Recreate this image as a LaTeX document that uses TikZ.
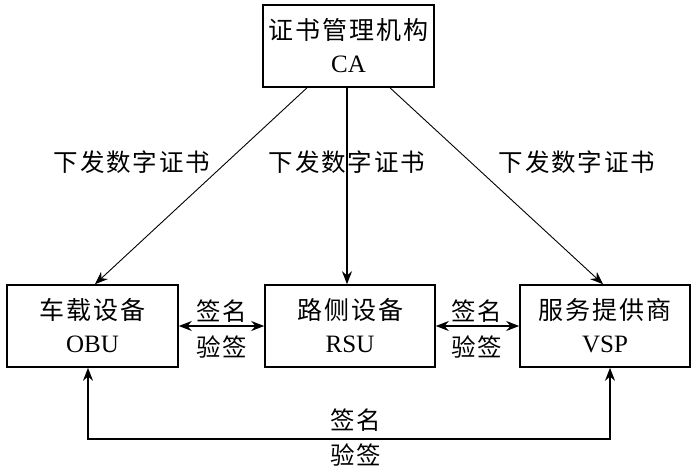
\documentclass[tikz,border=0pt]{standalone}
\usepackage{fontspec}
\setmainfont{Liberation Serif}
\newfontfamily\cjk[LetterSpace=8]{Noto Sans CJK SC}
\usetikzlibrary{arrows.meta}
\begin{document}
\begin{tikzpicture}[x=1pt,y=-1pt,
  box/.style={draw, line width=1.6pt, minimum width=171pt, minimum height=82pt,
    inner sep=0pt, align=center, font=\fontsize{25}{33}\selectfont},
  lbl/.style={font=\cjk\fontsize{24.5}{28}\selectfont, inner sep=0pt},
  arr/.style={line width=1.3pt, -{Stealth[length=13pt,width=10pt]}},
  darr/.style={line width=1.6pt, {Stealth[length=13pt,width=10pt]}-{Stealth[length=13pt,width=10pt]}},
  thin/.style={line width=0.9pt, -{Stealth[length=13pt,width=10pt]}}]
\useasboundingbox (0,0) rectangle (697,475);
\node[box] (ca) at (348.5,46) {{\cjk 证书管理机构}\\CA};
\node[box] (obu) at (92.5,326) {{\cjk 车载设备}\\OBU};
\node[box, minimum width=170pt] (rsu) at (350,326) {{\cjk 路侧设备}\\RSU};
\node[box, minimum width=170pt] (vsp) at (605,326) {{\cjk 服务提供商}\\VSP};

\draw[thin] ([xshift=-41.5pt]ca.south) -- ([xshift=2.5pt]obu.north);
\draw[arr] ([xshift=-1.5pt]ca.south) -- ([xshift=-3pt]rsu.north);
\draw[thin] ([xshift=41.5pt]ca.south) -- ([xshift=-2pt]vsp.north);

\node[lbl] (l1) at (132,162) {下发数字证书};
\node[lbl] (l2) at (347,162) {下发数字证书};
\node[lbl] (l3) at (577,162) {下发数字证书};

\draw[darr] (obu.east) -- (rsu.west);
\draw[darr] (rsu.east) -- (vsp.west);
\node[lbl] (s1) at (222,311) {签名};
\node[lbl] (v1) at (222,347) {验签};
\node[lbl] (s2) at (477,311) {签名};
\node[lbl] (v2) at (477,347) {验签};

\draw[darr] ([xshift=-4.5pt]obu.south) -- ++(0,71) -| ([xshift=5pt]vsp.south);
\node[lbl] (s3) at (356,420) {签名};
\node[lbl] (v3) at (356,455) {验签};
\end{tikzpicture}
\end{document}
